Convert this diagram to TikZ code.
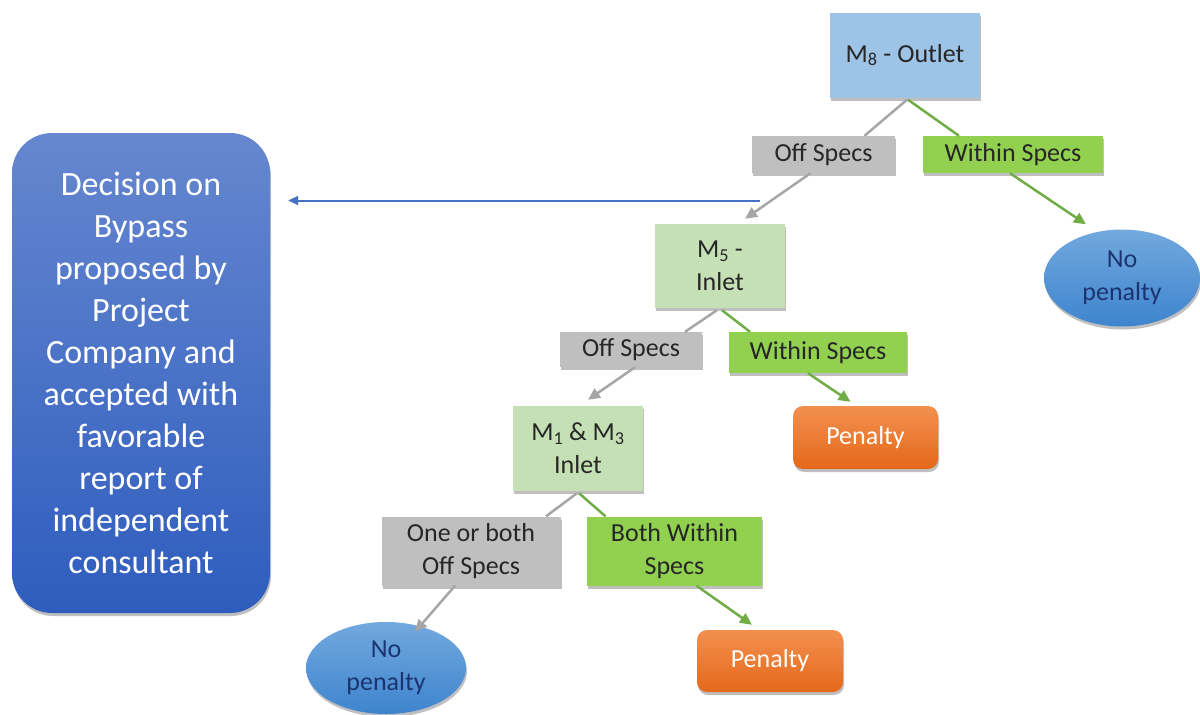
\documentclass[tikz,border=0pt]{standalone}
\usepackage{fontspec}
\setmainfont{Carlito}
\usetikzlibrary{arrows.meta,shapes.geometric,shadows,calc}
\definecolor{mblue}{HTML}{9DC3E6}
\definecolor{lgray}{HTML}{BFBFBF}
\definecolor{lgreen}{HTML}{92D050}
\definecolor{pgreen}{HTML}{C5E0B4}
\definecolor{gline}{HTML}{A6A6A6}
\definecolor{grline}{HTML}{70AD47}
\definecolor{bline}{HTML}{4472C4}
\definecolor{txt}{HTML}{262626}
\definecolor{elltop}{HTML}{72A9DE}
\definecolor{ellbot}{HTML}{3E84CE}
\definecolor{elltxt}{HTML}{1B3470}
\definecolor{ortop}{HTML}{F3904F}
\definecolor{orbot}{HTML}{E4681A}
\definecolor{dtop}{HTML}{6687CF}
\definecolor{dbot}{HTML}{2E5DBE}
\tikzset{
  lbl/.style={rectangle, inner sep=0pt, align=center, text=txt,
    font=\fontsize{26}{33}\selectfont,
    drop shadow={shadow xshift=1pt, shadow yshift=-3pt, opacity=.25, fill=black}},
  graybox/.style={lbl, fill=lgray},
  greenbox/.style={lbl, fill=lgreen},
  palebox/.style={lbl, fill=pgreen},
  penbox/.style={lbl, rounded corners=10pt, top color=ortop, bottom color=orbot, text=white},
  nopen/.style={lbl, ellipse, top color=elltop, bottom color=ellbot, text=elltxt},
  grayline/.style={draw=gline, line width=2.5pt},
  greenline/.style={draw=grline, line width=2.5pt},
  grayarrow/.style={grayline, -{Triangle[length=12pt,width=11pt]}},
  greenarrow/.style={greenline, -{Triangle[length=12pt,width=11pt]}},
}
\begin{document}
\begin{tikzpicture}[x=1pt,y=1pt]
\useasboundingbox (0,0) rectangle (1200,-715);
% left decision box
\node[lbl, rounded corners=40pt, top color=dtop, bottom color=dbot, text=white,
  minimum width=258pt, minimum height=480pt,
  font=\fontsize{34}{42}\selectfont] (dec) at (141,-373)
  {Decision on\\Bypass\\proposed by\\Project\\Company and\\accepted with\\favorable\\report of\\independent\\consultant};
% level 1
\node[lbl, fill=mblue, minimum width=150pt, minimum height=85pt] (m8) at (905,-55) {M\textsubscript{8} - Outlet};
\node[graybox, minimum width=143pt, minimum height=37pt] (off1) at (823.5,-154.5) {Off Specs};
\node[greenbox, minimum width=180pt, minimum height=37pt] (win1) at (1013,-154.5) {Within Specs};
\node[nopen, minimum width=156pt, minimum height=97pt] (np1) at (1122,-278) {No\\penalty};
% level 2
\node[palebox, minimum width=130pt, minimum height=84pt] (m5) at (720,-266) {M\textsubscript{5} -\\Inlet};
\node[graybox, minimum width=142pt, minimum height=35pt] (off2) at (631,-349.5) {Off Specs};
\node[greenbox, minimum width=178pt, minimum height=41pt] (win2) at (818,-352.5) {Within Specs};
\node[penbox, minimum width=145pt, minimum height=63pt] (pen1) at (865.5,-437.5) {Penalty};
% level 3
\node[palebox, minimum width=130pt, minimum height=85pt] (m13) at (578,-448.5) {M\textsubscript{1} \& M\textsubscript{3}\\Inlet};
\node[graybox, minimum width=179pt, minimum height=69pt] (off3) at (471,-551) {One or both\\Off Specs};
\node[greenbox, minimum width=175pt, minimum height=69pt] (win3) at (674.5,-551) {Both Within\\Specs};
\node[nopen, minimum width=160pt, minimum height=92pt] (np2) at (386,-668) {No\\penalty};
\node[penbox, minimum width=146pt, minimum height=62pt] (pen2) at (770,-661) {Penalty};
% blue arrow
\coordinate (bstart) at (760,-200.5);
\draw[draw=bline, line width=2pt, -{Triangle[length=10pt,width=9pt]}] (bstart) -- ($(dec.east |- bstart)+(18,0)$);
% connectors level 1
\draw[grayline] ($(m8.south)+(2,-2)$) -- ($(off1.north)+(41,0)$);
\draw[grayarrow] ($(off1.south)+(-13,0)$) -- ($(m5.north)+(25,5)$);
\draw[greenline] ($(m8.south)+(3,-2)$) -- ($(win1.north)+(-54,0)$);
\draw[greenarrow] ($(win1.south)+(-3,0)$) -- ($(np1.north)+(-36,5)$);
% connectors level 2
\draw[grayline] ($(m5.south)+(-3,-2)$) -- ($(off2.north)+(54,0)$);
\draw[grayarrow] ($(off2.south)+(4,0)$) -- ($(m13.north)+(10,6)$);
\draw[greenline] ($(m5.south)+(2,-2)$) -- ($(win2.north)+(-68,0)$);
\draw[greenarrow] ($(win2.south)+(-10,0)$) -- ($(pen1.north)+(-15,4)$);
% connectors level 3
\draw[grayline] ($(m13.south)+(-1,-2)$) -- ($(off3.north)+(75,0)$);
\draw[grayarrow] ($(off3.south)+(-16,0)$) -- ($(np2.north)+(29,-10)$);
\draw[greenline] ($(m13.south)+(1,-2)$) -- ($(win3.north)+(-69,0)$);
\draw[greenarrow] ($(win3.south)+(22,0)$) -- ($(pen2.north)+(-18,5)$);
\end{tikzpicture}
\end{document}
